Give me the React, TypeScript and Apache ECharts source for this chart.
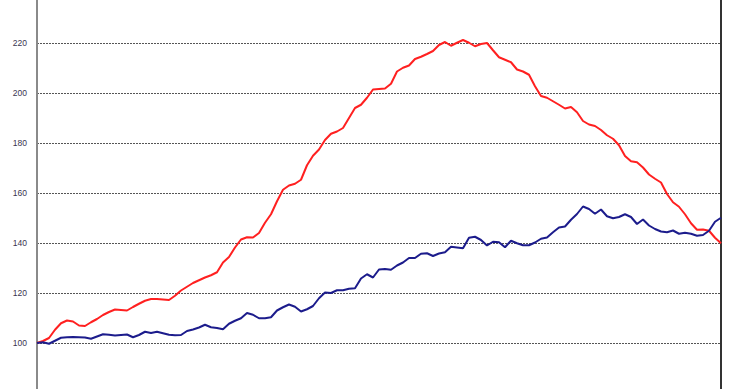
import React, { useEffect, useRef } from "react";
import * as echarts from "echarts";

const periods: string[] = Array.from({ length: 115 }, (_, i) => String(i + 1));

const redSeries: number[] = [
  100, 100.8, 102.0, 105.3, 107.9, 109.0, 108.6, 107.0, 106.8, 108.3,
  109.6, 111.2, 112.4, 113.4, 113.2, 113.0, 114.4, 115.7, 116.9, 117.6,
  117.6, 117.4, 117.2, 118.9, 121.0, 122.5, 124.0, 125.1, 126.2, 127.1,
  128.3, 132.2, 134.4, 138.2, 141.4, 142.3, 142.2, 144.0, 148.1, 151.5,
  156.7, 161.3, 163.0, 163.7, 165.3, 171.1, 174.9, 177.4, 181.2, 183.7,
  184.6, 186.0, 190.0, 194.0, 195.3, 198.1, 201.4, 201.6, 201.8, 203.7,
  208.6, 210.1, 211.0, 213.6, 214.5, 215.6, 216.8, 219.2, 220.4, 218.9,
  220.1, 221.2, 220.1, 218.7, 219.6, 220.0, 217.1, 214.3, 213.3, 212.3,
  209.4, 208.6, 207.3, 202.7, 198.8, 198.1, 196.7, 195.3, 193.8, 194.4,
  192.3, 188.8, 187.4, 186.8, 185.2, 183.1, 181.7, 179.1, 174.8, 172.7,
  172.3, 170.2, 167.4, 165.7, 164.2, 159.6, 156.3, 154.5, 151.5, 147.9,
  145.3, 145.4, 144.9, 142.1, 139.9,
];

const blueSeries: number[] = [
  100, 100.3, 99.7, 100.9, 102.1, 102.3, 102.4, 102.3, 102.2, 101.7,
  102.6, 103.5, 103.3, 103.0, 103.2, 103.4, 102.3, 103.2, 104.5, 104.0,
  104.5, 103.9, 103.3, 103.1, 103.2, 104.8, 105.4, 106.2, 107.3, 106.3,
  106.0, 105.5, 107.7, 108.9, 109.9, 112.0, 111.3, 109.9, 109.9, 110.3,
  113.0, 114.3, 115.4, 114.5, 112.6, 113.5, 114.8, 117.9, 120.2, 120.0,
  121.1, 121.1, 121.7, 121.9, 125.8, 127.5, 126.2, 129.4, 129.6, 129.3,
  131.0, 132.2, 134.0, 134.0, 135.7, 135.9, 134.8, 135.8, 136.3, 138.5,
  138.2, 137.9, 142.1, 142.5, 141.2, 139.0, 140.5, 140.3, 138.3, 140.9,
  139.9, 139.1, 139.1, 140.2, 141.7, 142.2, 144.3, 146.2, 146.6, 149.3,
  151.6, 154.6, 153.6, 151.7, 153.4, 150.7, 149.9, 150.4, 151.5, 150.4,
  147.6, 149.4, 147.0, 145.6, 144.6, 144.3, 145.0, 143.7, 144.1, 143.7,
  142.9, 143.2, 144.9, 148.5, 150.1,
];

const tickLabels: number[] = [100, 120, 140, 160, 180, 200, 220];

const yMin = 80;
const yMax = 240;
const yStep = 20;

export default function App() {
  const ref = useRef<HTMLDivElement>(null);
  useEffect(() => {
    if (!ref.current) return;
    const chart = echarts.init(ref.current, undefined, { renderer: "svg" });
    chart.setOption({
      animation: false,
      backgroundColor: "#ffffff",
      grid: {
        left: 37,
        right: 19,
        top: -7,
        bottom: -4,
        containLabel: false,
        outerBoundsMode: "none",
      },
      xAxis: {
        type: "category",
        data: periods,
        boundaryGap: false,
        axisLine: { show: false },
        axisTick: { show: false },
        axisLabel: { show: false },
        splitLine: { show: false },
      },
      yAxis: [
        {
          type: "value",
          min: yMin,
          max: yMax,
          interval: yStep,
          position: "left",
          axisLine: { show: true, lineStyle: { color: "#8a8a8a", width: 2 } },
          axisTick: { show: false },
          axisLabel: {
            show: true,
            margin: 10,
            color: "#3a3450",
            fontSize: 8.5,
            fontFamily: "Liberation Sans, Arial, sans-serif",
            formatter: (v: number) =>
              tickLabels.indexOf(v) >= 0 ? String(v) : "",
          },
          splitLine: {
            show: true,
            lineStyle: { color: "#555555", width: 1, type: [2, 1] },
          },
        },
        {
          type: "value",
          min: yMin,
          max: yMax,
          interval: yStep,
          position: "right",
          axisLine: { show: true, lineStyle: { color: "#333333", width: 2 } },
          axisTick: { show: false },
          axisLabel: { show: false },
          splitLine: { show: false },
        },
      ],
      series: [
        {
          type: "line",
          data: redSeries,
          yAxisIndex: 0,
          showSymbol: false,
          symbol: "none",
          lineStyle: { color: "#ff2020", width: 2 },
          z: 3,
        },
        {
          type: "line",
          data: blueSeries,
          yAxisIndex: 0,
          showSymbol: false,
          symbol: "none",
          lineStyle: { color: "#1c1c8c", width: 2 },
          z: 4,
        },
      ],
    });
    return () => chart.dispose();
  }, []);
  return (
    <div
      ref={ref}
      style={{ position: "absolute", left: 0, top: 0, width: 740, height: 389 }}
    />
  );
}
